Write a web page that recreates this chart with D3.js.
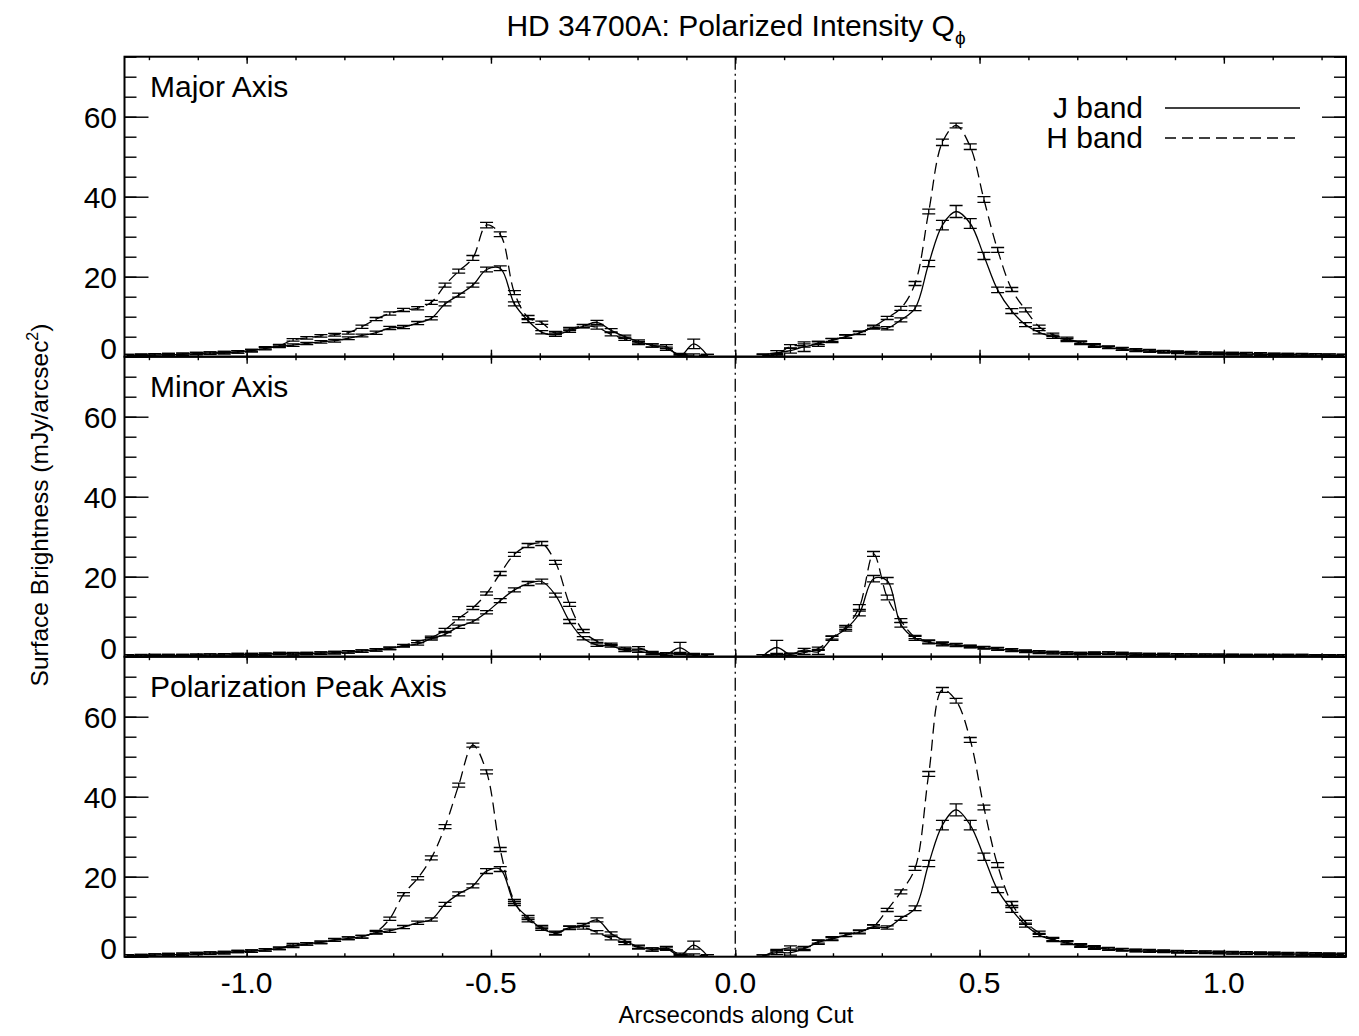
<!DOCTYPE html>
<html>
<head>
<meta charset="utf-8">
<script src="https://cdn.jsdelivr.net/npm/d3@7"></script>
<style>
  html, body { margin: 0; padding: 0; background: #fff; }
  svg { display: block; font-family: "Liberation Sans", Arial, Helvetica, sans-serif; }
</style>
</head>
<body>
<svg id="chart" width="1359" height="1036"></svg>
<script>
// ---------------- DATA ----------------
// distance from the star (arcsec) of each sample; left side uses the negative of these
const offsets = [0.057,0.085,0.113,0.141,0.170,0.198,0.226,0.254,0.283,0.311,0.339,0.368,0.396,0.424,0.452,0.481,0.509,0.537,0.566,0.594,0.622,0.650,0.679,0.707,0.735,0.764,0.792,0.820,0.848,0.877,0.905,0.933,0.962,0.990,1.018,1.046,1.075,1.103,1.131,1.160,1.188,1.216,1.244];

const panelTitles = ["Major Axis", "Minor Axis", "Polarization Peak Axis"];
const bandNames = ["J band", "H band"];
const yTickLabels = [0, 20, 40, 60];
const xTickLabels = ["-1.0", "-0.5", "0.0", "0.5", "1.0"];
const xTickValues = [-1.0, -0.5, 0.0, 0.5, 1.0];

// Major axis
const majorNegJ = [0.3,3.2,0.2,2.5,2.8,3.8,5.0,6.6,8.6,7.6, 6.5,5.5,6.1,9.0,13.2,22.1,21.8,17.9,15.4,13.2, 9.6,8.4,7.4,7.2,6.0,5.3,4.6,4.0,3.7,3.3, 2.9,2.6,2.0,1.5,1.2,1.0,0.9,0.8,0.6,0.5, 0.4,0.3,0.25];
const majorNegH = [0.3,0.4,0.5,2.0,2.8,3.4,4.5,5.6,7.3,7.7, 6.9,5.9,8.5,9.8,16.0,30.6,32.9,24.7,21.4,17.9, 13.6,12.1,11.7,10.8,9.4,7.5,6.0,5.5,5.2,4.7, 4.2,2.8,2.2,1.5,1.2,1.0,0.9,0.8,0.6,0.5, 0.45,0.4,0.3];
const majorPosJ = [0.4,1.0,1.5,2.5,3.2,4.0,5.0,5.9,7.3,7.1, 9.2,12.1,23.3,32.9,36.3,33.3,25.2,16.7,11.4,8.0, 6.1,5.0,4.2,3.4,2.7,2.3,1.9,1.6,1.4,1.2, 1.05,0.95,0.85,0.8,0.75,0.7,0.6,0.55,0.5,0.45, 0.4,0.35,0.3];
const majorPosH = [0.3,0.5,2.6,2.8,3.4,4.2,5.1,6.0,7.5,9.7, 12.1,18.3,36.3,53.6,57.8,52.5,39.3,26.7,16.8,11.7, 7.5,5.5,4.5,3.6,2.9,2.4,2.0,1.7,1.5,1.3, 1.15,1.0,0.9,0.85,0.8,0.75,0.7,0.6,0.55,0.5, 0.45,0.4,0.35];
// Minor axis
const minorNegJ = [0.3,0.3,2.2,0.6,0.8,1.4,1.6,2.7,2.9,4.6, 8.8,15.4,18.8,18.3,16.7,14.0,11.1,8.8,7.5,5.6, 4.5,3.2,2.7,2.1,1.7,1.4,1.2,1.0,0.9,0.8, 0.7,0.8,0.6,0.5,0.5,0.4,0.4,0.35,0.3,0.3, 0.25,0.2,0.2];
const minorNegH = [0.4,0.5,0.8,0.7,1.0,2.2,2.1,3.1,3.9,6.4, 13.1,23.6,28.3,27.8,25.6,20.8,15.8,12.2,9.6,6.7, 4.8,3.8,2.8,2.1,1.7,1.4,1.2,1.0,0.9,0.8, 0.75,0.8,0.6,0.5,0.5,0.45,0.4,0.35,0.3,0.3, 0.25,0.25,0.2];
const minorPosJ = [0.2,2.3,0.6,1.7,1.2,4.6,6.9,10.8,19.5,19.0, 8.0,4.6,3.6,3.1,2.9,2.5,2.2,1.9,1.6,1.3, 1.1,1.0,0.9,0.8,0.8,0.9,0.8,0.6,0.5,0.5, 0.4,0.4,0.35,0.35,0.3,0.3,0.3,0.3,0.25,0.25, 0.2,0.2,0.2];
const minorPosH = [0.2,0.5,0.5,1.0,2.0,4.8,7.3,12.4,25.7,14.8, 9.0,4.9,3.8,3.3,3.0,2.6,2.3,2.0,1.7,1.4, 1.2,1.0,0.9,0.8,0.9,0.9,0.8,0.6,0.55,0.5, 0.45,0.4,0.4,0.35,0.35,0.3,0.3,0.3,0.25,0.25, 0.2,0.2,0.2];
// Polarization peak axis
const peakNegJ = [0.2,2.9,0.3,2.0,1.8,2.5,4.0,5.8,9.2,7.9, 7.3,6.0,7.0,9.8,13.3,21.9,21.4,17.7,15.7,13.1, 9.3,8.5,7.4,6.5,6.0,5.0,4.6,4.2,3.6,3.2, 2.6,2.1,1.7,1.4,1.3,1.0,0.9,0.8,0.6,0.5, 0.4,0.3,0.2];
const peakNegH = [0.2,0.4,0.6,2.2,1.8,2.3,3.4,4.6,6.1,7.3, 7.2,5.8,7.4,9.2,13.8,26.8,46.2,52.9,42.9,32.5, 24.7,19.6,15.6,9.5,6.2,5.0,4.6,4.2,3.6,3.2, 3.0,2.1,1.7,1.4,1.3,1.0,0.9,0.8,0.6,0.5, 0.4,0.3,0.2];
const peakPosJ = [0.15,1.0,1.0,2.0,3.6,4.4,5.4,6.1,7.5,7.3, 9.6,12.1,23.3,32.9,36.7,32.9,25.0,16.7,11.7,7.9, 5.4,4.2,3.4,2.7,2.2,1.9,1.7,1.5,1.4,1.3, 1.2,1.15,1.1,1.0,0.95,0.9,0.8,0.75,0.7,0.65, 0.6,0.55,0.5];
const peakPosH = [0.15,1.5,2.3,2.2,3.8,4.6,5.5,6.3,7.6,11.7, 16.2,22.1,45.7,66.7,64.0,54.2,37.3,22.9,13.3,8.6, 6.0,4.4,3.6,2.9,2.4,2.0,1.8,1.6,1.5,1.4, 1.3,1.2,1.15,1.1,1.0,0.95,0.9,0.85,0.8,0.75, 0.7,0.65,0.6];

// 1-sigma errors
const majorNegJErr = [.3,1.2,.3,.5,.4,.4,.4,.4,.5,.4, .4,.4,.4,.5,.5,.6,.6,.5,.5,.5, .4,.4,.4,.4,.4,.35,.35,.35,.3,.3, .3,.3,.3,.3,.3,.3,.3,.3,.3,.3, .3,.3,.3];
const majorNegHErr = [.3,.3,.3,.4,.4,.4,.4,.4,.4,.4, .4,.4,.4,.5,.5,.6,.7,.6,.5,.5, .5,.4,.4,.4,.4,.4,.35,.35,.3,.3, .3,.3,.3,.3,.3,.3,.3,.3,.3,.3, .3,.3,.3];
const majorPosJErr = [.3,.5,.6,1.2,.6,.5,.4,.4,.4,.4, .5,.6,.8,1.2,1.5,1.2,.9,.7,.6,.5, .4,.4,.4,.35,.35,.3,.3,.3,.3,.3, .3,.3,.3,.3,.3,.3,.3,.3,.3,.3, .3,.3,.3];
const majorPosHErr = [.3,.3,.4,.4,.4,.4,.4,.4,.4,.4, .5,.5,.6,.8,.6,.7,.7,.6,.5,.5, .4,.4,.4,.35,.35,.3,.3,.3,.3,.3, .3,.3,.3,.3,.3,.3,.3,.3,.3,.3, .3,.3,.3];
const minorNegJErr = [.3,.3,1.4,.3,.3,.3,.3,.3,.3,.4, .5,.5,.6,.5,.5,.5,.4,.4,.4,.4, .35,.3,.3,.3,.3,.3,.3,.3,.3,.3, .3,.3,.3,.3,.3,.3,.3,.3,.3,.3, .3,.3,.3];
const minorNegHErr = [.3,.3,.3,.3,.3,.3,.3,.3,.3,.4, .5,.5,.5,.5,.5,.5,.4,.4,.4,.4, .35,.3,.3,.3,.3,.3,.3,.3,.3,.3, .3,.3,.3,.3,.3,.3,.3,.3,.3,.3, .3,.3,.3];
const minorPosJErr = [.3,1.8,.3,.4,.6,.5,.5,.6,.8,.8, .6,.5,.4,.4,.35,.3,.3,.3,.3,.3, .3,.3,.3,.3,.3,.3,.3,.3,.3,.3, .3,.3,.3,.3,.3,.3,.3,.3,.3,.3, .3,.3,.3];
const minorPosHErr = [.3,.3,.3,.4,.4,.4,.5,.6,.6,.6, .5,.4,.4,.4,.35,.3,.3,.3,.3,.3, .3,.3,.3,.3,.3,.3,.3,.3,.3,.3, .3,.3,.3,.3,.3,.3,.3,.3,.3,.3, .3,.3,.3];
const peakNegJErr = [.3,1.0,.3,.4,.4,.4,.4,.4,.5,.4, .4,.4,.4,.5,.5,.6,.6,.5,.5,.5, .4,.4,.4,.4,.35,.35,.35,.3,.3,.3, .3,.3,.3,.3,.3,.3,.3,.3,.3,.3, .3,.3,.3];
const peakNegHErr = [.3,.3,.3,.4,.4,.4,.4,.4,.4,.4, .4,.4,.4,.5,.5,.5,.5,.5,.5,.5, .5,.4,.4,.4,.4,.35,.35,.35,.3,.3, .3,.3,.3,.3,.3,.3,.3,.3,.3,.3, .3,.3,.3];
const peakPosJErr = [.3,.5,.6,.5,.5,.4,.4,.4,.4,.4, .5,.6,.8,1.2,1.5,1.2,.9,.7,.6,.5, .4,.4,.4,.35,.35,.3,.3,.3,.3,.3, .3,.3,.3,.3,.3,.3,.3,.3,.3,.3, .3,.3,.3];
const peakPosHErr = [.3,.3,.4,.4,.4,.4,.4,.4,.4,.4, .5,.5,.6,.6,.6,.6,.6,.6,.5,.5, .4,.4,.4,.35,.35,.3,.3,.3,.3,.3, .3,.3,.3,.3,.3,.3,.3,.3,.3,.3, .3,.3,.3];

const panelsData = [
  { neg: [majorNegJ, majorNegH], pos: [majorPosJ, majorPosH],
    negErr: [majorNegJErr, majorNegHErr], posErr: [majorPosJErr, majorPosHErr] },
  { neg: [minorNegJ, minorNegH], pos: [minorPosJ, minorPosH],
    negErr: [minorNegJErr, minorNegHErr], posErr: [minorPosJErr, minorPosHErr] },
  { neg: [peakNegJ, peakNegH], pos: [peakPosJ, peakPosH],
    negErr: [peakNegJErr, peakNegHErr], posErr: [peakPosJErr, peakPosHErr] }
];

// ---------------- LAYOUT ----------------
const plotLeft = 124.5, plotRight = 1346;
const plotTop = 56.7, panelH = 300;
const FONT = 30;
const dashes = [null, "11,6"];

const svg = d3.select("#chart");
svg.append("rect").attr("width", 1359).attr("height", 1036).attr("fill", "#fff");

const x = d3.scaleLinear().domain([-1.25, 1.25]).range([plotLeft, plotRight]);
const minorX = d3.range(-12, 13).map(d => d / 10);
const majorX = [-1.0, -0.5, 0.0, 0.5, 1.0];
const minorY = d3.range(0, 76, 5);
const majorY = [0, 20, 40, 60];

const defs = svg.append("defs");

panelsData.forEach((pd, i) => {
  const top = plotTop + i * panelH;
  const bottom = top + panelH;
  const y = d3.scaleLinear().domain([0, 75]).range([bottom, top]);
  const g = svg.append("g");

  defs.append("clipPath").attr("id", "clip" + i)
    .append("rect").attr("x", plotLeft).attr("y", top)
    .attr("width", plotRight - plotLeft).attr("height", panelH);

  const data = g.append("g").attr("clip-path", `url(#clip${i})`);

  const line = d3.line()
    .x(d => x(d[0])).y(d => y(d[1]))
    .curve(d3.curveCatmullRom.alpha(0.5));

  [0, 1].forEach(b => {
    const negPts = offsets.map((o, j) => [-o, pd.neg[b][j], pd.negErr[b][j]]).reverse();
    const posPts = offsets.map((o, j) => [o, pd.pos[b][j], pd.posErr[b][j]]);
    [negPts, posPts].forEach(pts => {
      data.append("path")
        .attr("d", line(pts))
        .attr("fill", "none")
        .attr("stroke", "#000")
        .attr("stroke-width", 1.3)
        .attr("stroke-dasharray", dashes[b]);
      const cw = 6.5;
      data.append("path")
        .attr("d", pts.map(p => {
          const cx = x(p[0]), y1 = y(p[1] + p[2]), y2 = y(Math.max(p[1] - p[2], -1));
          return `M${cx - cw},${y1}H${cx + cw}M${cx},${y1}V${y2}M${cx - cw},${y2}H${cx + cw}`;
        }).join(""))
        .attr("fill", "none")
        .attr("stroke", "#000")
        .attr("stroke-width", 1.3);
    });
  });

  // ticks via d3 axes (inward)
  const tickStyle = sel => {
    sel.select(".domain").remove();
    sel.selectAll("line").attr("stroke", "#000").attr("stroke-width", 1.4);
    sel.selectAll("text").remove();
  };
  g.append("g").attr("transform", `translate(0,${bottom})`)
    .call(d3.axisTop(x).tickValues(minorX).tickSize(3.5)).call(tickStyle);
  g.append("g").attr("transform", `translate(0,${bottom})`)
    .call(d3.axisTop(x).tickValues(majorX).tickSize(7)).call(tickStyle);
  g.append("g").attr("transform", `translate(0,${top})`)
    .call(d3.axisBottom(x).tickValues(minorX).tickSize(3.5)).call(tickStyle);
  g.append("g").attr("transform", `translate(0,${top})`)
    .call(d3.axisBottom(x).tickValues(majorX).tickSize(7)).call(tickStyle);
  g.append("g").attr("transform", `translate(${plotLeft},0)`)
    .call(d3.axisRight(y).tickValues(minorY).tickSize(12)).call(tickStyle);
  g.append("g").attr("transform", `translate(${plotLeft},0)`)
    .call(d3.axisRight(y).tickValues(majorY).tickSize(24)).call(tickStyle);
  g.append("g").attr("transform", `translate(${plotRight},0)`)
    .call(d3.axisLeft(y).tickValues(minorY).tickSize(12)).call(tickStyle);
  g.append("g").attr("transform", `translate(${plotRight},0)`)
    .call(d3.axisLeft(y).tickValues(majorY).tickSize(24)).call(tickStyle);

  // y tick labels
  yTickLabels.forEach(v => {
    g.append("text")
      .attr("x", 117)
      .attr("y", y(v) + (v === 0 ? -9 : 0))
      .attr("dy", "0.36em")
      .attr("text-anchor", "end")
      .attr("font-size", FONT)
      .text(v);
  });

  // panel frame
  g.append("rect")
    .attr("x", plotLeft).attr("y", top)
    .attr("width", plotRight - plotLeft).attr("height", panelH)
    .attr("fill", "none").attr("stroke", "#000").attr("stroke-width", 2);

  // panel label
  g.append("text")
    .attr("x", 150).attr("y", top + 40.5)
    .attr("font-size", FONT)
    .text(panelTitles[i]);
});

// zero line (dash-dot) through all panels
svg.append("line")
  .attr("x1", x(0)).attr("x2", x(0))
  .attr("y1", plotTop).attr("y2", plotTop + 3 * panelH)
  .attr("stroke", "#000").attr("stroke-width", 1.3)
  .attr("stroke-dasharray", "13,4,2,4");

// x tick labels
xTickValues.forEach((v, j) => {
  svg.append("text")
    .attr("x", x(v)).attr("y", 993)
    .attr("text-anchor", "middle")
    .attr("font-size", FONT)
    .text(xTickLabels[j]);
});

// legend
const legendY = [108, 138];
bandNames.forEach((name, b) => {
  svg.append("text")
    .attr("x", 1143).attr("y", legendY[b] + 10)
    .attr("text-anchor", "end")
    .attr("font-size", FONT)
    .text(name);
  svg.append("line")
    .attr("x1", 1165).attr("x2", b === 0 ? 1300 : 1296)
    .attr("y1", legendY[b]).attr("y2", legendY[b])
    .attr("stroke", "#000").attr("stroke-width", 1.3)
    .attr("stroke-dasharray", dashes[b]);
});

// title
const title = svg.append("text")
  .attr("x", 736).attr("y", 36)
  .attr("text-anchor", "middle")
  .attr("font-size", FONT);
title.append("tspan").text("HD 34700A: Polarized Intensity Q");
title.append("tspan").attr("font-size", 19).attr("dy", 8).text("\u03D5");

// axis titles
svg.append("text")
  .attr("x", 736).attr("y", 1023)
  .attr("text-anchor", "middle")
  .attr("font-size", 24)
  .text("Arcseconds along Cut");

const yt = svg.append("text")
  .attr("transform", "translate(48,505) rotate(-90)")
  .attr("text-anchor", "middle")
  .attr("font-size", 24.5);
yt.append("tspan").text("Surface Brightness (mJy/arcsec");
yt.append("tspan").attr("font-size", 16).attr("dy", -10).text("2");
yt.append("tspan").attr("dy", 10).text(")");
</script>
</body>
</html>
